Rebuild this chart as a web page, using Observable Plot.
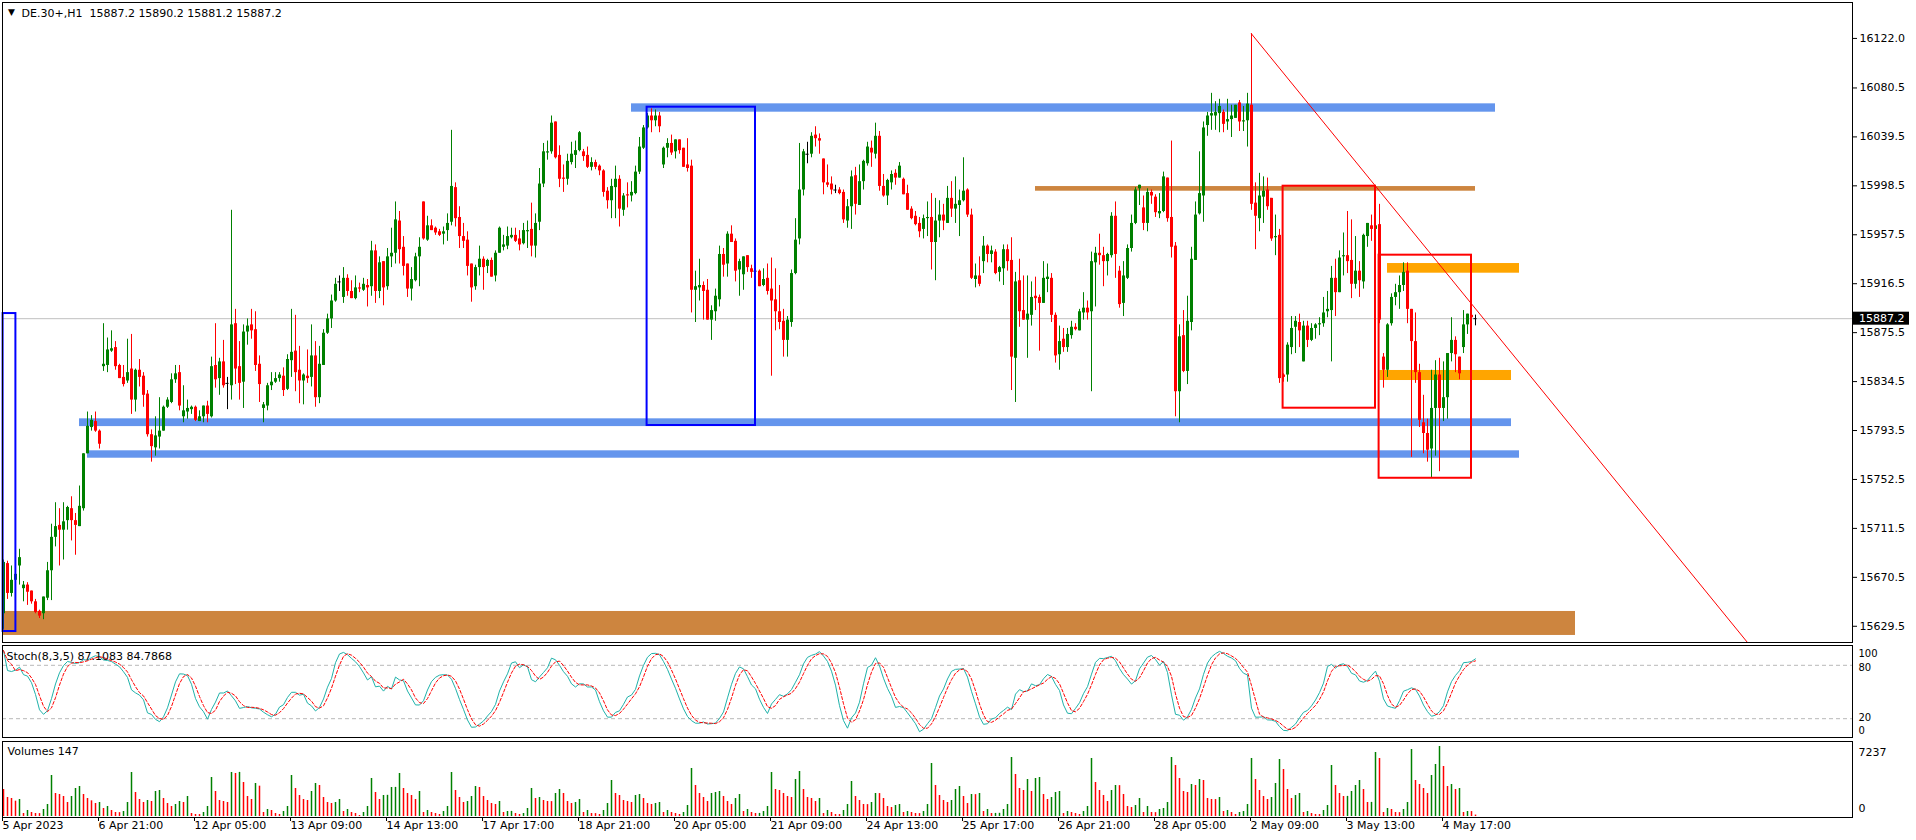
<!DOCTYPE html>
<html><head><meta charset="utf-8">
<script src="https://cdn.jsdelivr.net/npm/d3@7"></script>
<script src="https://cdn.jsdelivr.net/npm/@observablehq/plot@0.6"></script>
<style>
html,body{margin:0;padding:0;background:#fff;}
#root{position:relative;width:1916px;height:840px;overflow:hidden;background:#fff;}
#root svg{position:absolute;left:0;max-width:none;}
</style></head>
<body><div id="root"></div>
<script>
// ---------------- DATA (DE.30+, H1) ----------------
const O = [
15640,15682,15657,15668,15680,15661,15664,15659,15650,15642,
15640,15653,15676,15704,15714,15710,15718,15728,15718,15713,
15728,15774,15796,15801,15793,15847,15848,15860,15863,15848,
15838,15835,15845,15819,15844,15839,15824,15790,15779,15788,
15793,15813,15817,15836,15842,15805,15809,15811,15813,15801,
15805,15814,15805,15848,15837,15851,15833,15831,15883,15847,
15834,15876,15882,15878,15849,15812,15814,15831,15834,15837,
15839,15828,15852,15860,15844,15835,15839,15838,15856,15821,
15848,15875,15887,15902,15918,15905,15921,15910,15904,15913,
15911,15915,15914,15944,15910,15935,15914,15939,15942,15969,
15947,15933,15912,15919,15939,15985,15953,15965,15963,15960,
15958,15961,15968,15997,15972,15956,15953,15933,15914,15930,
15937,15931,15936,15923,15942,15947,15948,15955,15957,15954,
15950,15960,15962,15948,15968,16000,16026,16027,16052,16024,
16005,16004,16018,16024,16028,16027,16024,16014,16018,16015,
16011,15994,15986,15997,16004,15978,15991,15990,15992,16010,
16030,16047,16057,16053,16057,16016,16030,16034,16027,16037,
16030,16016,16015,15911,15913,15915,15911,15886,15893,15903,
15941,15933,15958,15952,15928,15924,15940,15929,15927,15927,
15915,15921,15912,15903,15893,15885,15869,15884,15925,15954,
15995,16025,16025,16041,16038,16021,16001,16000,15995,15995,
15993,15969,15981,16007,15982,16002,16017,16030,16025,16040,
15998,15990,16001,16009,16005,16004,15992,15979,15973,15967,
15962,15971,15972,15951,15969,15974,15967,15988,15979,15982,
15986,15995,15974,15920,15923,15935,15948,15941,15943,15926,
15929,15945,15936,15854,15919,15894,15886,15890,15906,15905,
15900,15920,15921,15890,15857,15870,15863,15873,15880,15877,
15892,15896,15893,15934,15942,15940,15935,15940,15973,15927,
15900,15921,15946,15967,15996,15980,15967,15993,15989,15975,
15977,16005,15972,15948,15826,15873,15843,15884,15936,15975,
15990,16049,16057,16057,16059,16060,16052,16054,16055,16068,
16052,16053,16066,15984,15971,15989,15995,15988,15955,15957,
15840,15840,15863,15880,15884,15851,15881,15869,15879,15882,
15883,15893,15894,15921,15909,15939,15940,15936,15916,15927,
15918,15956,15965,15962,15966,15855,15844,15883,15905,15909,
15915,15927,15895,15868,15842,15800,15791,15778,15812,15840,
15812,15821,15858,15869,15855,15863,15882,15890,15887.2];
const H = [
15685,15684,15680,15682,15694,15667,15666,15659,15652,15643,
15654,15683,15715,15733,15728,15733,15730,15738,15724,15747,
15774,15809,15806,15809,15794,15883,15871,15877,15868,15849,
15848,15870,15874,15845,15853,15842,15827,15794,15805,15821,
15814,15821,15841,15848,15848,15831,15819,15814,15814,15810,
15814,15818,15855,15883,15854,15869,15838,15978,15895,15868,
15882,15887,15895,15893,15856,15817,15833,15842,15842,15842,
15846,15857,15895,15890,15864,15841,15861,15882,15868,15864,
15878,15891,15907,15921,15923,15930,15924,15919,15923,15917,
15921,15920,15952,15949,15939,15935,15946,15963,15985,15977,
15956,15933,15930,15942,15955,15985,15973,15970,15964,15962,
15964,15975,16045,16001,15981,15967,15960,15933,15932,15948,
15939,15937,15938,15944,15964,15957,15964,15963,15963,15961,
15967,15969,15984,15975,16013,16034,16036,16057,16052,16032,
16016,16025,16035,16036,16044,16029,16031,16022,16020,16016,
16012,15997,16004,16015,16007,15992,16001,16002,16015,16039,
16049,16059,16063,16062,16060,16031,16038,16041,16037,16037,
16030,16038,16020,15927,15937,15918,15920,15898,15912,15948,
15946,15960,15965,15954,15937,15939,15940,15932,15928,15928,
15929,15933,15938,15929,15915,15895,15889,15928,15971,16034,
16029,16035,16043,16048,16042,16021,16016,16006,15999,15997,
15995,15987,16011,16014,16016,16020,16035,16036,16051,16044,
16008,16004,16011,16012,16018,16005,15999,15981,15977,15972,
15974,15985,15992,15988,15986,15983,15998,16002,16006,15995,
16022,15996,15979,15933,15939,15956,15949,15948,15945,15931,
15949,15949,15955,15926,15937,15923,15923,15918,15922,15907,
15935,15933,15925,15892,15881,15879,15879,15885,15883,15895,
15909,15902,15943,15947,15958,15947,15942,15976,15985,15931,
15935,15949,15974,15997,15999,15990,15996,15995,15991,15992,
16010,16005,16036,15951,15882,15894,15906,15947,15985,16027,
16052,16060,16076,16069,16071,16062,16071,16066,16066,16070,
16065,16076,16126,16001,16009,16006,16005,15988,15974,15962,
15841,15867,15889,15889,15891,15885,15885,15883,15883,15888,
15905,15910,15931,15937,15944,15959,15977,15970,15956,15935,
15958,15967,15974,15974,15983,15858,15883,15908,15916,15923,
15934,15934,15895,15892,15849,15823,15803,15844,15852,15854,
15851,15858,15888,15872,15855,15894,15891,15891,15890.2];
const L = [
15627,15652,15654,15666,15664,15650,15647,15648,15640,15636,
15635,15651,15651,15696,15680,15685,15710,15701,15689,15713,
15726,15774,15793,15792,15778,15843,15842,15859,15844,15837,
15830,15833,15807,15809,15830,15813,15788,15767,15772,15778,
15793,15812,15816,15833,15810,15800,15803,15807,15801,15801,
15800,15800,15804,15829,15823,15829,15811,15819,15832,15819,
15812,15865,15870,15843,15817,15800,15810,15827,15833,15834,
15822,15827,15838,15826,15816,15815,15833,15830,15813,15816,
15848,15874,15879,15901,15910,15900,15906,15904,15903,15909,
15910,15897,15906,15900,15904,15898,15911,15930,15933,15933,
15923,15905,15902,15918,15914,15953,15952,15961,15957,15956,
15949,15952,15965,15964,15946,15946,15923,15901,15911,15923,
15911,15925,15922,15918,15942,15944,15945,15954,15951,15944,
15949,15946,15939,15938,15961,15997,16020,16025,16021,15997,
15993,15999,16016,16013,16027,16019,16013,16011,16012,16007,
15989,15979,15971,15971,15964,15973,15980,15985,15991,16008,
16029,16046,16043,16048,16043,16013,16022,16024,16021,16025,
16014,16010,15892,15884,15902,15886,15886,15869,15885,15897,
15922,15922,15951,15918,15906,15911,15926,15921,15926,15914,
15914,15907,15839,15877,15878,15855,15855,15880,15924,15949,
15990,16017,16022,16031,16025,15991,15997,15991,15992,15991,
15967,15963,15962,15974,15982,15995,16015,16014,16021,15994,
15989,15982,15995,15999,16005,15991,15978,15970,15965,15955,
15954,15956,15928,15919,15955,15961,15967,15972,15967,15956,
15985,15972,15920,15913,15914,15925,15934,15934,15924,15918,
15915,15927,15827,15817,15880,15886,15854,15881,15894,15860,
15900,15909,15884,15850,15844,15859,15859,15870,15877,15877,
15886,15886,15826,15897,15932,15914,15923,15938,15921,15896,
15889,15920,15943,15966,15982,15961,15960,15983,15972,15971,
15976,15968,15938,15805,15800,15842,15832,15877,15936,15974,
15968,16040,16045,16045,16043,16043,16045,16039,16055,16044,
16044,16031,15978,15945,15960,15967,15978,15952,15940,15833,
15834,15834,15857,15858,15863,15851,15863,15868,15870,15873,
15880,15888,15851,15889,15909,15923,15925,15904,15912,15905,
15912,15947,15952,15949,15883,15829,15838,15881,15898,15895,
15910,15883,15771,15833,15796,15774,15767,15754,15772,15759,
15801,15803,15851,15842,15836,15858,15874,15888,15881.2];
const C = [
15683,15657,15668,15673,15687,15664,15658,15650,15641,15638,
15654,15676,15704,15713,15710,15717,15729,15718,15714,15730,
15774,15797,15802,15793,15782,15849,15861,15862,15847,15837,
15832,15842,15819,15844,15838,15823,15790,15780,15789,15793,
15813,15819,15836,15841,15814,15810,15812,15813,15802,15805,
15814,15807,15847,15836,15851,15831,15833,15882,15845,15833,
15876,15881,15877,15848,15832,15815,15831,15834,15837,15840,
15827,15853,15859,15842,15835,15840,15837,15856,15821,15849,
15875,15887,15902,15916,15918,15921,15910,15904,15913,15912,
15916,15913,15944,15910,15934,15913,15939,15942,15970,15945,
15931,15912,15920,15939,15947,15954,15965,15961,15959,15957,
15960,15967,15998,15971,15956,15952,15931,15913,15930,15937,
15930,15936,15922,15942,15963,15949,15956,15957,15952,15949,
15961,15961,15948,15967,16000,16027,16027,16051,16022,16004,
16004,16019,16025,16028,16043,16023,16014,16018,16014,16011,
15993,15986,15998,16004,15979,15990,15990,15993,16010,16031,
16047,16057,16053,16057,16048,16030,16034,16026,16037,16028,
16014,16013,15911,15914,15915,15910,15886,15894,15906,15941,
15932,15958,15951,15927,15935,15939,15930,15926,15927,15914,
15920,15910,15902,15893,15884,15869,15886,15925,15953,15995,
16027,16025,16040,16038,16036,16001,15999,15995,15995,15992,
15970,15981,16006,15983,16002,16019,16031,16026,16040,15998,
15990,16003,16008,16005,16015,15991,15978,15971,15966,15960,
15971,15972,15951,15969,15974,15969,15988,15979,15983,15986,
15994,15974,15921,15923,15916,15948,15941,15944,15925,15930,
15945,15935,15855,15918,15893,15886,15891,15905,15904,15900,
15921,15922,15890,15856,15868,15863,15874,15880,15878,15893,
15896,15892,15935,15942,15940,15935,15941,15973,15941,15899,
15923,15946,15967,15995,15999,15967,15993,15990,15976,15977,
16006,15971,15947,15826,15872,15843,15885,15937,15974,15992,
16047,16057,16059,16060,16065,16050,16054,16057,16066,16052,
16053,16067,15983,15973,15990,15994,15981,15954,15956,15837,
15838,15865,15879,15885,15877,15881,15869,15879,15882,15883,
15892,15895,15921,15909,15938,15940,15935,15916,15927,15919,
15957,15967,15962,15965,15886,15844,15882,15905,15909,15915,
15926,15895,15868,15842,15802,15791,15777,15812,15840,15812,
15821,15858,15869,15857,15841,15882,15891,15888,15887.2];
const V = [
2791,1964,1861,1585,1757,310,620,414,310,300,
724,1241,4239,2378,2274,2068,1447,2068,2895,3101,
2274,1861,1620,1344,1447,827,1034,620,414,400,
517,1447,4549,2481,1757,1447,1654,1551,2585,2688,
1861,1344,1034,1241,1551,1447,2068,310,207,200,
414,1034,4032,2585,1654,1551,1447,4549,4445,4560,
3515,2068,1757,3412,3136,414,724,620,310,207,
517,1034,4239,2895,2171,1757,1654,2585,3412,3205,
1964,1447,1344,1447,1757,517,724,414,310,103,
414,1034,3928,2481,1757,2171,2190,2998,3010,4445,
2895,2378,2171,1757,2585,414,620,414,310,207,
517,1034,4549,2688,1964,1447,1551,2068,3101,2998,
2068,1654,1344,1241,1551,414,517,530,310,207,
310,827,2895,1861,1964,1654,1551,1540,2378,2791,
2378,1551,1344,1447,1757,414,620,310,300,207,
620,1344,3722,2378,2171,1654,1551,1447,2171,2274,
1861,1344,1241,1344,1447,414,620,414,310,207,
414,1137,4962,3205,2378,1964,1551,2378,2481,2585,
2068,1551,1241,1861,2274,517,724,414,310,320,
517,1034,4549,2791,2688,2378,2068,1964,3825,4652,
2791,1964,1861,1551,1861,310,620,414,207,200,
620,1241,3618,2068,1654,1241,1230,1447,2378,2370,
1861,1034,930,1137,1241,414,517,414,310,300,
517,1241,5479,3205,2171,1654,1447,1654,2791,3101,
2068,1344,2274,2260,2378,517,724,310,320,330,
724,1241,6099,4342,2895,2688,3825,2585,3928,4032,
2274,1757,1964,2481,2585,310,517,414,310,207,
517,1034,5996,3515,2688,2171,1551,2688,3205,3190,
2274,1034,930,1137,1861,414,1034,414,400,724,
827,1447,6099,5272,3928,2585,2481,3308,3205,3825,
3722,1861,1757,1750,1964,517,620,414,207,414,
517,1241,5996,3825,2688,2068,1757,1964,3412,5893,
4859,2791,1861,2171,2378,414,517,310,207,200,
620,1137,5272,3205,2378,2068,2080,2585,3205,3722,
2791,1447,1460,6616,5996,414,827,724,414,400,
724,1447,6926,3722,3308,2895,2378,4239,5376,7237,
5169,3101,3308,2791,2895,414,517,510,147];

// axis ticks / labels
const priceTicks = [16122.0,16080.5,16039.5,15998.5,15957.5,15916.5,15875.5,15834.5,15793.5,15752.5,15711.5,15670.5,15629.5];
const timeTickBars = [0,24,48,72,96,120,144,168,192,216,240,264,288,312,336,360];
const timeLabels = ["5 Apr 2023","6 Apr 21:00","12 Apr 05:00","13 Apr 09:00","14 Apr 13:00","17 Apr 17:00","18 Apr 21:00","20 Apr 05:00","21 Apr 09:00","24 Apr 13:00","25 Apr 17:00","26 Apr 21:00","28 Apr 05:00","2 May 09:00","3 May 13:00","4 May 17:00"];
const stochLevels = [100, 80, 20, 0];
const volumeLevels = [7237, 0];

// drawn objects (bar index / price)
const zones = [
  {kind:"support", x1:-0.25, x2:393, y1:15621.8, y2:15641.9},
  {kind:"level",   x1:157,   x2:373, y1:16060.2, y2:16067.2},
  {kind:"level",   x1:19,    x2:377, y1:15796.8, y2:15803.3},
  {kind:"level",   x1:21,    x2:379, y1:15770.3, y2:15776.5},
  {kind:"support", x1:258,   x2:368, y1:15994.0, y2:15997.9},
  {kind:"zone",    x1:346,   x2:379, y1:15925.3, y2:15933.4},
  {kind:"zone",    x1:344.1, x2:377, y1:15835.4, y2:15843.8}
];
const boxes = [
  {kind:"blue", x1:-0.1,  x2:3.1,  y1:15625.1, y2:15891.5},
  {kind:"blue", x1:160.9, x2:188,  y1:15797.7, y2:16064.4},
  {kind:"red",  x1:319.9, x2:343,  y1:15812.2, y2:15998.2},
  {kind:"red",  x1:343.9, x2:367,  y1:15753.5, y2:15940.4}
];
const trend = [{i:312, p:16125.8}, {i:436, p:15615.9}];

const headerText = "DE.30+,H1  15887.2 15890.2 15881.2 15887.2";
const stochText = "Stoch(8,3,5) 87.1083 84.7868";
const volumeText = "Volumes 147";

// ---------------- derived ----------------
const n = C.length;
const bars = d3.range(n).map(i => ({i, o:O[i], h:H[i], l:L[i], c:C[i]}));
const candleColor = d => d.c > d.o ? "#008000" : d.c < d.o ? "#ff0000" : "#000000";
const zoneColor = {support:"#CD853F", level:"#6495ED", zone:"#FFA500"};
const boxColor = {blue:"#0000FF", red:"#FF0000"};

// Stochastic (8,3,5)
const KP=8, SL=5, DP=3;
const LL=[], HH=[];
for (let i=0;i<n;i++){const a=Math.max(0,i-KP+1); LL[i]=d3.min(L.slice(a,i+1)); HH[i]=d3.max(H.slice(a,i+1));}
const kMain=[];
for (let i=0;i<n;i++){let num=0,den=0;for(let j=Math.max(0,i-SL+1);j<=i;j++){num+=C[j]-LL[j];den+=HH[j]-LL[j];}kMain[i]=den?100*num/den:50;}
const stoch = kMain.map((k,i)=>({i, k, d:d3.mean(kMain.slice(Math.max(0,i-DP+1),i+1))}));
const vols = V.map((v,i)=>({i, v, up: i>0 && v>V[i-1]}));

const W = 1916, FONT = "DejaVu Sans";
const xDomain = [-0.25, 462.25];
const root = document.getElementById("root");
const baseStyle = {fontFamily: FONT, fontSize: "11px", background: "transparent", color: "#000", overflow: "visible"};
const asText = d => String(d);

// ---------------- price panel ----------------
const priceChart = Plot.plot({
  width: W, height: 645, marginLeft: 2, marginRight: 64, marginTop: 2, marginBottom: 3,
  style: baseStyle,
  x: {type: "linear", domain: xDomain, axis: null, label: null},
  y: {type: "linear", domain: [15615.9, 16152.1], label: null},
  marks: [
    Plot.rect(zones, {x1:"x1", x2:"x2", y1:"y1", y2:"y2", fill: d => zoneColor[d.kind]}),
    Plot.ruleY([C[n-1]], {stroke: "#c0c0c0"}),
    Plot.ruleX(bars, {x:"i", y1:"l", y2:"h", stroke: candleColor, strokeWidth: 1}),
    Plot.ruleX(bars.filter(d => d.o !== d.c), {x:"i", y1:"o", y2:"c", stroke: candleColor, strokeWidth: 3}),
    Plot.ruleY(bars.filter(d => d.o === d.c), {x1: d => d.i - 0.4, x2: d => d.i + 0.4, y:"o", stroke: "#000"}),
    Plot.rect(boxes, {x1:"x1", x2:"x2", y1:"y1", y2:"y2", fill: "none", stroke: d => boxColor[d.kind], strokeWidth: 2}),
    Plot.line(trend, {x:"i", y:"p", stroke: "#ff0000", strokeWidth: 1}),
    Plot.frame({stroke: "#000"}),
    Plot.axisY({anchor: "right", ticks: priceTicks, tickFormat: d => d.toFixed(1), tickSize: 4, tickPadding: 3, fontSize: 11, fontFamily: FONT}),
    Plot.text(["▼"], {frameAnchor: "top-left", dx: 9, dy: 10, textAnchor: "middle", lineAnchor: "middle", fontSize: 9, fill: "#000"}),
    Plot.text([headerText], {frameAnchor: "top-left", dx: 19, dy: 11, textAnchor: "start", lineAnchor: "middle", fontSize: 11, fontFamily: FONT, fill: "#000"})
  ]
});
priceChart.style.top = "0px";
root.appendChild(priceChart);
{
  const ys = priceChart.scale("y");
  const yp = ys.apply(C[n-1]);
  const g = d3.select(priceChart).append("g").attr("text-anchor", "start");
  g.append("rect").attr("x", 1853).attr("y", yp - 6.5).attr("width", 56).attr("height", 13).attr("fill", "#000");
  g.append("text").attr("x", 1859).attr("y", yp).attr("dy", "0.36em").attr("fill", "#fff")
    .attr("text-anchor", "start").attr("font-family", FONT).attr("font-size", 11).text(C[n-1].toFixed(1));
}

// ---------------- stochastic panel ----------------
const stochChart = Plot.plot({
  width: W, height: 95, marginLeft: 2, marginRight: 64, marginTop: 1, marginBottom: 2,
  style: baseStyle,
  x: {type: "linear", domain: xDomain, axis: null, label: null},
  y: {type: "linear", domain: [-1.12, 102.25], axis: null, label: null},
  marks: [
    Plot.ruleY([80, 20], {stroke: "#b8b8b8", strokeDasharray: "4,3"}),
    Plot.line(stoch, {x:"i", y:"k", stroke: "#20B2AA", strokeWidth: 1}),
    Plot.line(stoch, {x:"i", y:"d", stroke: "#ff0000", strokeWidth: 1, strokeDasharray: "3,2"}),
    Plot.frame({stroke: "#000"}),
    Plot.text([stochLevels[0]], {y: d => d, text: asText, frameAnchor: "right", dx: 6, dy: 6, textAnchor: "start", fontSize: 10, fontFamily: FONT, fill: "#000"}),
    Plot.text([stochLevels[1]], {y: d => d, text: asText, frameAnchor: "right", dx: 6, dy: 2, textAnchor: "start", fontSize: 10, fontFamily: FONT, fill: "#000"}),
    Plot.text([stochLevels[2]], {y: d => d, text: asText, frameAnchor: "right", dx: 6, dy: -1, textAnchor: "start", fontSize: 10, fontFamily: FONT, fill: "#000"}),
    Plot.text([stochLevels[3]], {y: d => d, text: asText, frameAnchor: "right", dx: 6, dy: -6, textAnchor: "start", fontSize: 10, fontFamily: FONT, fill: "#000"}),
    Plot.text([stochText], {frameAnchor: "top-left", dx: 4, dy: 11, textAnchor: "start", lineAnchor: "middle", fontSize: 11, fontFamily: FONT, fill: "#000"})
  ]
});
stochChart.style.top = "644px";
root.appendChild(stochChart);

// ---------------- volume panel + time axis ----------------
const labelOf = new Map(timeTickBars.map((b, k) => [b, timeLabels[k]]));
const volChart = Plot.plot({
  width: W, height: 101, marginLeft: 2, marginRight: 64, marginTop: 2, marginBottom: 23,
  style: baseStyle,
  x: {type: "linear", domain: xDomain, label: null},
  y: {type: "linear", domain: [-103, 7754], axis: null, label: null},
  marks: [
    Plot.ruleX(vols, {x:"i", y1: 0, y2:"v", stroke: d => d.up ? "#008000" : "#ff0000", strokeWidth: 1.5}),
    Plot.frame({stroke: "#000"}),
    Plot.axisX({ticks: timeTickBars, tickFormat: d => labelOf.get(d), tickSize: 4, tickPadding: 0, textAnchor: "start", dx: -1, fontSize: 11, fontFamily: FONT, label: null}),
    Plot.text([volumeLevels[0]], {y: d => d, text: asText, frameAnchor: "right", dx: 6, dy: 5.5, textAnchor: "start", fontSize: 11, fontFamily: FONT, fill: "#000"}),
    Plot.text([volumeLevels[1]], {y: d => d, text: asText, frameAnchor: "right", dx: 6, dy: -8, textAnchor: "start", fontSize: 11, fontFamily: FONT, fill: "#000"}),
    Plot.text([volumeText], {frameAnchor: "top-left", dx: 5, dy: 10, textAnchor: "start", lineAnchor: "middle", fontSize: 11, fontFamily: FONT, fill: "#000"})
  ]
});
volChart.style.top = "739px";
root.appendChild(volChart);
</script></body></html>
